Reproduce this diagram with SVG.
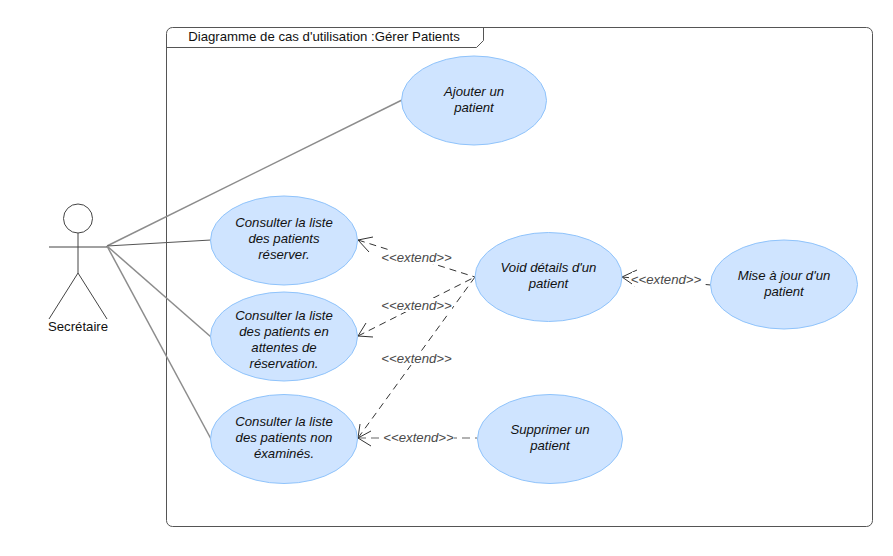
<svg xmlns="http://www.w3.org/2000/svg" width="893" height="556" viewBox="0 0 893 556">
<style>
text{font-family:"Liberation Sans",Arial,sans-serif;font-size:13.2px;fill:#111;text-anchor:middle}
.uc ellipse{fill:#cfe4ff;stroke:#8fc3fb;stroke-width:1}
.uc text{font-style:italic}
.el{font-style:italic;fill:#4a4a4a}
.assoc{fill:none;stroke:#8c8c8c;stroke-width:1.5}
.assoc2{fill:none;stroke:#555;stroke-width:1}
.dash{fill:none;stroke:#333;stroke-width:1;stroke-dasharray:7 5}
.dashg{fill:none;stroke:#999;stroke-width:1.3;stroke-dasharray:8 5}
.head{fill:none;stroke:#333;stroke-width:1}
.actor{fill:none;stroke:#444;stroke-width:1}
</style>
<rect width="893" height="556" fill="#fff"/>
<g id="frame">
<rect x="166.500" y="27.500" width="706" height="499" rx="6" fill="#fff" stroke="#555" stroke-width="1"/>
<path d="M166.500 47.500H476.500L483.500 40.500V27.500" fill="none" stroke="#555" stroke-width="1"/>
<text x="324" y="41">Diagramme de cas d'utilisation :Gérer Patients</text>
</g>
<g id="connectors">
<path class="assoc" d="M107 246L402 100"/>
<path class="assoc2" d="M107 246L211 240"/>
<path class="assoc" d="M107 246L211 337"/>
<path class="assoc" d="M107 246L211 439"/>
<path class="dash" d="M358 240L475 277"/>
<path class="dash" d="M358 336L475 277"/>
<path class="dash" d="M358 438L475 277"/>
<path class="dashg" d="M358 438L477 438"/>
<path class="dash" d="M622 277L711 285"/>
<path class="head" d="M373 237L358 240L369 252"/>
<path class="head" d="M366 323L358 336L373 337"/>
<path class="head" d="M360 424L358 438L371 431M358 438L371 446"/>
<path class="head" d="M637 270L622 277L635 286"/>
</g>
<g id="labels">
<rect x="382" y="250" width="70" height="14" fill="#fff"/>
<text class="el" x="416.500" y="262">&lt;&lt;extend&gt;&gt;</text>
<rect x="382" y="298" width="70" height="14" fill="#fff"/>
<text class="el" x="416.500" y="310">&lt;&lt;extend&gt;&gt;</text>
<rect x="382" y="351" width="70" height="14" fill="#fff"/>
<text class="el" x="416.500" y="363">&lt;&lt;extend&gt;&gt;</text>
<rect x="384" y="430" width="70" height="14" fill="#fff"/>
<text class="el" x="418.500" y="442">&lt;&lt;extend&gt;&gt;</text>
<rect x="632" y="272" width="70" height="14" fill="#fff"/>
<text class="el" x="666" y="284">&lt;&lt;extend&gt;&gt;</text>
</g>
<g id="actor">
<circle class="actor" cx="78" cy="218.500" r="14.500"/>
<path class="actor" d="M78 233V273M49 247H107M78 273L49 319M78 273L107 319"/>
<text x="78" y="331">Secrétaire</text>
</g>
<g id="uc-ajouter" class="uc"><ellipse cx="474" cy="100.500" rx="72.500" ry="44.500"/><text x="474" y="96">Ajouter un</text><text x="474" y="112">patient</text></g>
<g id="uc-reserver" class="uc"><ellipse cx="284" cy="240.500" rx="73.500" ry="44.500"/><text x="284" y="227">Consulter la liste</text><text x="284" y="243">des patients</text><text x="284" y="259">réserver.</text></g>
<g id="uc-attentes" class="uc"><ellipse cx="284" cy="336.500" rx="73.500" ry="44.500"/><text x="284" y="320">Consulter la liste</text><text x="284" y="336">des patients en</text><text x="284" y="352">attentes de</text><text x="284" y="368">réservation.</text></g>
<g id="uc-examines" class="uc"><ellipse cx="284" cy="439" rx="73.500" ry="44.500"/><text x="284" y="426">Consulter la liste</text><text x="284" y="442">des patients non</text><text x="284" y="458">éxaminés.</text></g>
<g id="uc-details" class="uc"><ellipse cx="548.500" cy="277" rx="73.500" ry="44.500"/><text x="548.500" y="272">Void détails d'un</text><text x="548.500" y="288">patient</text></g>
<g id="uc-maj" class="uc"><ellipse cx="784" cy="284.500" rx="73.500" ry="44.500"/><text x="784" y="280">Mise à jour d'un</text><text x="784" y="296">patient</text></g>
<g id="uc-supprimer" class="uc"><ellipse cx="550" cy="439" rx="72.500" ry="44.500"/><text x="550" y="434">Supprimer un</text><text x="550" y="450">patient</text></g>
</svg>
